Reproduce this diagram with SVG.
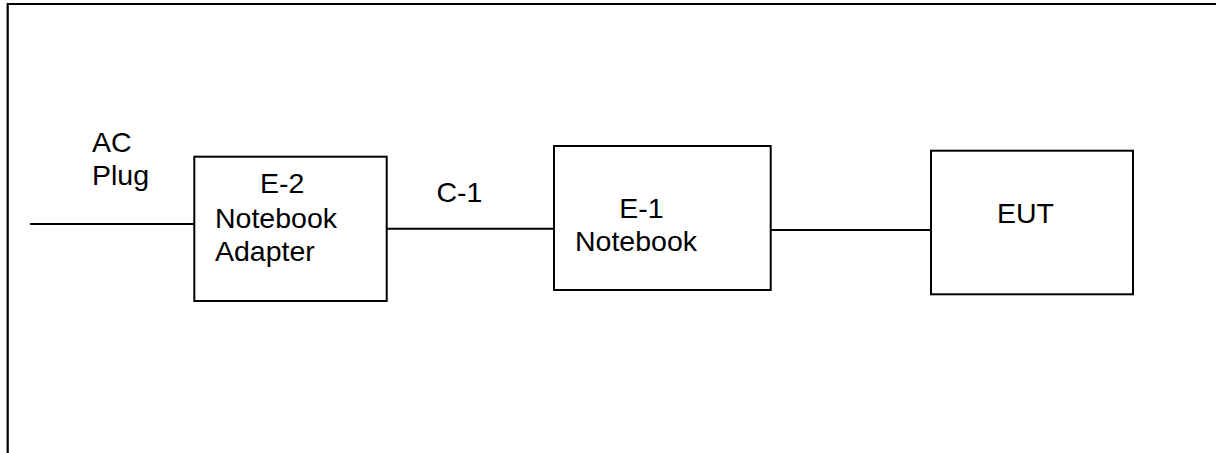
<svg xmlns="http://www.w3.org/2000/svg" width="1216" height="453" viewBox="0 0 1216 453">
<style>
.box{fill:#fff;stroke:#000;stroke-width:2}
.wire{stroke:#000;stroke-width:2;fill:none}
.frame{stroke:#000;stroke-width:2.2;fill:none}
text{font-family:"Liberation Sans",Arial,sans-serif;font-size:28.5px;fill:#000}
</style>
<rect width="1216" height="453" fill="#fff"/>
<path class="frame" d="M7.7,453 V4 H1216"/>
<g id="connectors">
<line class="wire" x1="30" y1="224" x2="194" y2="224"/>
<line class="wire" x1="387" y1="228.7" x2="554" y2="228.7"/>
<line class="wire" x1="771" y1="230" x2="931" y2="230"/>
</g>
<g id="ac-plug">
<text x="92" y="152">AC</text>
<text x="92" y="185">Plug</text>
</g>
<g id="c1-label">
<text x="436.5" y="202">C-1</text>
</g>
<g id="e2">
<rect class="box" x="194.3" y="156.7" width="192.4" height="144.3"/>
<text x="260" y="193">E-2</text>
<text x="215" y="228">Notebook</text>
<text x="215" y="260.5">Adapter</text>
</g>
<g id="e1">
<rect class="box" x="554" y="146" width="216.7" height="144"/>
<text x="619.3" y="218.3">E-1</text>
<text x="575" y="250.7">Notebook</text>
</g>
<g id="eut">
<rect class="box" x="931" y="150.7" width="202" height="143.6"/>
<text x="997" y="222.5">EUT</text>
</g>
</svg>
